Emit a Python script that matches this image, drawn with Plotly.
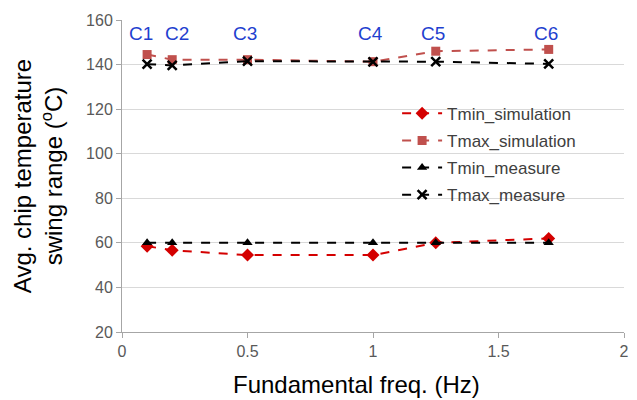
import plotly.graph_objects as go

freq = [0.1, 0.2, 0.5, 1.0, 1.25, 1.7]
case_labels = ["C1", "C2", "C3", "C4", "C5", "C6"]
tmin_sim = [58.5, 56.7, 54.5, 54.5, 60.0, 62.0]
tmax_sim = [144.5, 142.2, 142.2, 141.3, 146.0, 146.8]
tmin_meas = [60, 60, 60, 60, 60, 60]
tmax_meas = [140.2, 139.6, 141.5, 141.2, 141.3, 140.3]
label_y = [154, 154, 154, 154, 154, 154]

fig = go.Figure()
fig.add_trace(go.Scatter(x=freq, y=tmin_sim, name="Tmin_simulation", mode="lines+markers",
                         legendgroup="a",
                         line=dict(color="#d40000", dash="dash", width=2),
                         marker=dict(symbol="diamond", size=10, color="#d40000")))
fig.add_trace(go.Scatter(x=freq, y=tmax_sim, name="Tmax_simulation", mode="lines+markers",
                         legendgroup="b",
                         line=dict(color="#c0504d", dash="dash", width=2),
                         marker=dict(symbol="square", size=9, color="#c0504d")))
fig.add_trace(go.Scatter(x=freq, y=tmin_meas, name="Tmin_measure", mode="lines+markers",
                         legendgroup="c",
                         line=dict(color="black", dash="dash", width=2),
                         marker=dict(symbol="triangle-up", size=9, color="black")))
fig.add_trace(go.Scatter(x=freq, y=tmax_meas, name="Tmax_measure", mode="lines+markers",
                         legendgroup="d",
                         line=dict(color="black", dash="dash", width=2),
                         marker=dict(symbol="x-thin", size=9, color="black",
                                     line=dict(width=2.5, color="black"))))

label_shift = {"C1": -6, "C2": 5}
for xv, yv, lab in zip(freq, label_y, case_labels):
    fig.add_annotation(x=xv, y=yv, text=lab, showarrow=False,
                       xshift=label_shift.get(lab, -3),
                       font=dict(family="Liberation Sans, Arial", size=19, color="#1f3fcf"))

fig.add_annotation(xref="paper", yref="paper", x=0.467, y=-0.118, yanchor="top",
                   text="Fundamental freq. (Hz)", showarrow=False,
                   font=dict(family="Liberation Sans, Arial", size=24, color="black"))

fig.update_layout(
    width=637, height=400,
    margin=dict(l=122, r=8, t=20, b=68),
    paper_bgcolor="white", plot_bgcolor="white",
    font=dict(family="Liberation Sans, Arial", color="#595959"),
    showlegend=True,
    legend=dict(x=0.548, y=0.757, xanchor="left", yanchor="top",
                bgcolor="rgba(255,255,255,0)",
                font=dict(size=17, color="#404040"),
                tracegroupgap=2, itemwidth=40),
    xaxis=dict(range=[0, 2], tickvals=[0, 0.5, 1, 1.5, 2], ticktext=["0", "0.5", "1", "1.5", "2"],
               showgrid=False, zeroline=False, showline=True, linecolor="#a6a6a6", linewidth=1,
               ticks="outside", ticklen=5, tickcolor="#a6a6a6",
               tickfont=dict(size=16, color="#595959")),
    yaxis=dict(range=[20, 160], tickvals=[20, 40, 60, 80, 100, 120, 140, 160],
               showgrid=True, gridcolor="#d9d9d9", gridwidth=1, zeroline=False,
               showline=True, linecolor="#a6a6a6", linewidth=1,
               ticks="outside", ticklen=5, tickcolor="#a6a6a6",
               tickfont=dict(size=16, color="#595959"),
               title=dict(text="Avg. chip temperature<br>swing range (<sup>o</sup>C)",
                          font=dict(size=24, color="black"), standoff=16)),
)

fig.write_html("out.html")
